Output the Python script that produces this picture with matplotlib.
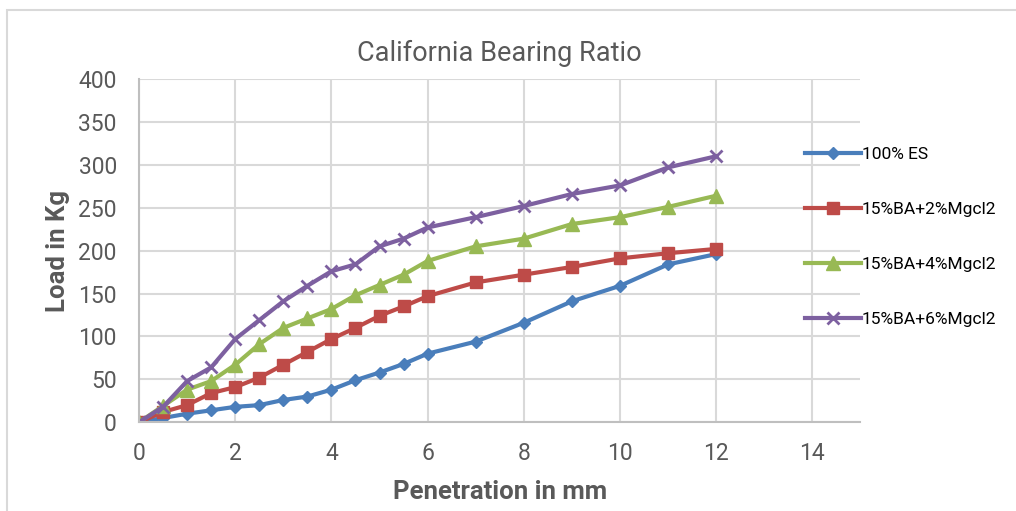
import matplotlib
matplotlib.use("Agg")
import matplotlib.pyplot as plt
from matplotlib.patches import Rectangle

plt.rcParams['font.family'] = ['Roboto', 'DejaVu Sans']

penetration = [0, 0.5, 1, 1.5, 2, 2.5, 3, 3.5, 4, 4.5, 5, 5.5, 6, 7, 8, 9, 10, 11, 12]
es_100 = [0, 5, 10, 14, 18, 20, 26, 30, 38, 49, 58, 68, 80, 94, 116, 141, 159, 184, 196]
ba_2 = [0, 12, 20, 34, 41, 52, 67, 82, 97, 110, 124, 135, 147, 163, 172, 181, 191, 197, 202]
ba_4 = [0, 19, 38, 48, 67, 91, 110, 121, 132, 148, 160, 172, 188, 205, 214, 231, 239, 251, 264]
ba_6 = [0, 18, 48, 64, 97, 119, 141, 159, 176, 184, 205, 214, 227, 239, 252, 266, 276, 297, 310]

series_labels = ["100% ES", "15%BA+2%Mgcl2", "15%BA+4%Mgcl2", "15%BA+6%Mgcl2"]
x_ticks = [0, 2, 4, 6, 8, 10, 12, 14]
y_ticks = [0, 50, 100, 150, 200, 250, 300, 350, 400]

W, H = 1016, 511
fig = plt.figure(figsize=(W / 100, H / 100), dpi=100)
# chart border (only top/left visible in the crop)
fig.patches.append(Rectangle((7 / W, -0.1), 2, 1.1 - 10 / H, transform=fig.transFigure,
                             fill=False, edgecolor="#d9d9d9", lw=1.5))

ax = fig.add_axes([139 / W, 1 - 422.3 / H, (860.5 - 139) / W, (422.3 - 79) / H])

styles = [
    dict(color="#4a7ebb", marker="D", ms=6),
    dict(color="#be4b48", marker="s", ms=9),
    dict(color="#98b954", marker="^", ms=10),
    dict(color="#7d60a0", marker="x", ms=9, mew=2),
]
for y, lab, st in zip([es_100, ba_2, ba_4, ba_6], series_labels, styles):
    ax.plot(penetration, y, lw=3, label=lab, solid_joinstyle="round", **st)

ax.set_xlim(0, 15)
ax.set_ylim(0, 400)
ax.set_xticks(x_ticks)
ax.set_yticks(y_ticks)
ax.grid(True, color="#d9d9d9", lw=1.5)
ax.set_axisbelow(True)
for s in ["top", "right"]:
    ax.spines[s].set_visible(False)
for s in ["left", "bottom"]:
    ax.spines[s].set_color("#bfbfbf")
    ax.spines[s].set_linewidth(1.5)
ax.tick_params(length=0, labelsize=16.5, labelcolor="#595959")
ax.tick_params(axis="x", pad=14)
ax.tick_params(axis="y", pad=16)

ax.set_title("California Bearing Ratio", fontsize=19.5, color="#595959", pad=13)
ax.set_xlabel("Penetration in mm", fontsize=18.5, fontweight="bold", color="#595959", labelpad=11)
ax.set_ylabel("Load in Kg", fontsize=18.5, fontweight="bold", color="#595959", labelpad=6)

fig.legend(loc="upper left", bbox_to_anchor=(789 / W, 1 - 131 / H), frameon=False,
           fontsize=12.5, handlelength=3.25, handletextpad=0.05, labelspacing=2.3,
           labelcolor="#000000")

fig.savefig("out.png", dpi=100)
